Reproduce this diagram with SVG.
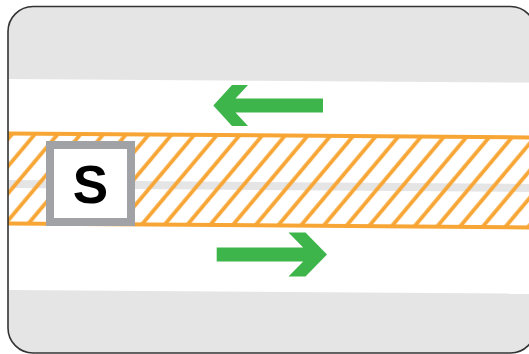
<svg xmlns="http://www.w3.org/2000/svg" width="529" height="354" viewBox="0 0 529 354">
  <style>
    .band { fill: #e5e5e5; }
    .arrow { fill: #3db54a; }
    .hatchline { stroke: #f7a534; stroke-width: 3.8; }
    .zone { fill: url(#hatch); stroke: #f7a534; stroke-width: 4; }
    .frame { fill: none; stroke: #333333; stroke-width: 1.6; }
    .box { fill: #ffffff; stroke: #a1a2a6; stroke-width: 8; }
    .label { font-family: "Liberation Sans", Arial, sans-serif; font-weight: bold; font-size: 53px; fill: #000000; text-anchor: middle; }
  </style>
  <defs>
    <clipPath id="frameClip">
      <rect x="8" y="6.5" width="527.5" height="346.5" rx="25" ry="25"/>
    </clipPath>
    <pattern id="hatch" patternUnits="userSpaceOnUse" width="17.5" height="17.5" patternTransform="rotate(40)">
      <line class="hatchline" x1="8" y1="-1" x2="8" y2="18.5"/>
    </pattern>
  </defs>
  <rect x="0" y="0" width="529" height="354" fill="#ffffff"/>
  <g id="scene" clip-path="url(#frameClip)">
    <rect x="8" y="6.5" width="527.5" height="346.5" fill="#ffffff"/>
    <polygon id="top-band" class="band" points="0,0 540,0 540,82.6 0,78.9"/>
    <polygon id="bottom-band" class="band" points="0,289.9 540,293.6 540,360 0,360"/>
    <polygon id="center-line" class="band" points="0,179.9 540,184.1 540,192.1 0,187.9"/>
    <polygon id="zone" class="zone" points="-10,133.4 545,137.5 545,227.5 -10,223.4"/>
  </g>
  <g id="node-S">
    <rect class="box" x="50" y="145" width="81" height="77"/>
    <text class="label" x="90.5" y="203">S</text>
  </g>
  <g id="connectors">
    <polygon id="arrow-left" class="arrow" points="213.3,105.5 232,85 248,85 235.5,98.5 323,98.5 323,112.5 235.5,112.5 248,126 232,126"/>
    <polygon id="arrow-right" class="arrow" points="327,254.5 305.5,232.5 288.5,232.5 303.2,247.5 216.7,247.5 216.7,261.5 303.2,261.5 288.5,276.5 305.5,276.5"/>
  </g>
  <rect class="frame" x="8" y="6.5" width="527.5" height="346.5" rx="25" ry="25"/>
</svg>
